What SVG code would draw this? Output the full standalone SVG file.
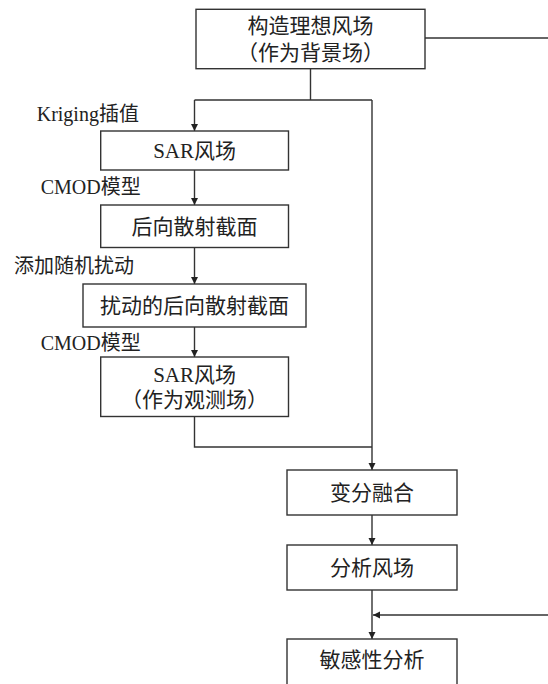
<svg xmlns="http://www.w3.org/2000/svg" width="548" height="684" viewBox="0 0 548 684">
<style>
.box{fill:#fff;stroke:#333;stroke-width:1.4}
.t{font-family:"Liberation Serif","Noto Sans CJK SC",serif;font-size:21px;fill:#222;text-anchor:middle;dominant-baseline:central}
.lbl{font-family:"Liberation Serif","Noto Sans CJK SC",serif;font-size:20px;fill:#222}
.ln{fill:none;stroke:#333;stroke-width:1.4}
</style>
<defs>
<marker id="ah" viewBox="0 0 10 10" refX="10" refY="5" markerWidth="7" markerHeight="9" markerUnits="userSpaceOnUse" orient="auto">
<path d="M0,0 L10,5 L0,10 z" fill="#222"/>
</marker>
</defs>
<g id="connectors">
<path class="ln" d="M425,38 H548"/>
<path class="ln" d="M310.5,69 V100 M194.5,100 H372"/>
<path class="ln" d="M194.5,100 V131" marker-end="url(#ah)"/>
<path class="ln" d="M372,100 V470" marker-end="url(#ah)"/>
<path class="ln" d="M194.5,170 V205" marker-end="url(#ah)"/>
<path class="ln" d="M194.5,247.5 V284" marker-end="url(#ah)"/>
<path class="ln" d="M194.5,327 V357" marker-end="url(#ah)"/>
<path class="ln" d="M194.5,416.5 V447 H372"/>
<path class="ln" d="M372,515 V545" marker-end="url(#ah)"/>
<path class="ln" d="M372,590 V639" marker-end="url(#ah)"/>
<path class="ln" d="M548,615 H373" marker-end="url(#ah)"/>
</g>
<g id="labels">
<text class="lbl" x="36.7" y="121">Kriging插值</text>
<text class="lbl" x="40.7" y="194">CMOD模型</text>
<text class="lbl" x="14" y="273">添加随机扰动</text>
<text class="lbl" x="40.7" y="350">CMOD模型</text>
</g>
<g id="n_ideal">
<rect class="box" x="196" y="9.3" width="229" height="59.4"/>
<text class="t" x="310.5" y="26">构造理想风场</text>
<text class="t" x="310.5" y="52.5">（作为背景场）</text>
</g>
<g id="n_sar">
<rect class="box" x="100.7" y="131" width="187.8" height="39"/>
<text class="t" x="194.6" y="151">SAR风场</text>
</g>
<g id="n_sigma">
<rect class="box" x="100.7" y="205" width="187.8" height="42.5"/>
<text class="t" x="194.6" y="226.5">后向散射截面</text>
</g>
<g id="n_perturbed">
<rect class="box" x="83" y="284" width="223" height="43"/>
<text class="t" x="194.5" y="305.5">扰动的后向散射截面</text>
</g>
<g id="n_obs">
<rect class="box" x="100.7" y="357" width="187.8" height="59.5"/>
<text class="t" x="194.6" y="375">SAR风场</text>
<text class="t" x="194.6" y="400">（作为观测场）</text>
</g>
<g id="n_var">
<rect class="box" x="287" y="470" width="170" height="45"/>
<text class="t" x="372" y="492.5">变分融合</text>
</g>
<g id="n_analysis">
<rect class="box" x="287" y="545" width="170" height="45"/>
<text class="t" x="372" y="567.5">分析风场</text>
</g>
<g id="n_sens">
<rect class="box" x="287" y="639" width="170" height="47"/>
<text class="t" x="372" y="660">敏感性分析</text>
</g>
</svg>
